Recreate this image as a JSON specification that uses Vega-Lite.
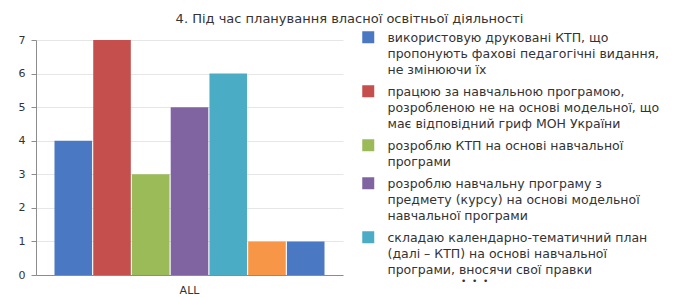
{
  "$schema": "https://vega.github.io/schema/vega-lite/v6.json",
  "width": 307,
  "height": 235,
  "autosize": {"type": "none"},
  "padding": {"left": 36, "top": 40, "right": 348, "bottom": 25},
  "background": "white",
  "config": {"view": {"stroke": null}, "font": "DejaVu Sans"},
  "title": {
    "text": "4. Під час планування власної освітньої діяльності",
    "font": "DejaVu Sans",
    "fontSize": 13,
    "fontWeight": "normal",
    "color": "#333333",
    "anchor": "middle",
    "dx": 160,
    "offset": 5
  },
  "data": {
    "values": [
      {"group": "ALL", "answer": "використовую друковані КТП, що|пропонують фахові педагогічні видання,|не змінюючи їх", "count": 4},
      {"group": "ALL", "answer": "працюю за навчальною програмою,|розробленою не на  основі модельної, що|має відповідний гриф МОН України", "count": 7},
      {"group": "ALL", "answer": "розроблю КТП на основі навчальної|програми", "count": 3},
      {"group": "ALL", "answer": "розроблю навчальну програму з|предмету (курсу) на основі модельної|навчальної програми", "count": 5},
      {"group": "ALL", "answer": "складаю календарно-тематичний план|(далі – КТП) на основі навчальної|програми, вносячи свої правки", "count": 6},
      {"group": "ALL", "answer": "інше", "count": 1},
      {"group": "ALL", "answer": "інше (2)", "count": 1}
    ]
  },
  "mark": {"type": "bar"},
  "encoding": {
    "x": {
      "field": "group",
      "type": "nominal",
      "scale": {"paddingInner": 0, "paddingOuter": 0.0685},
      "axis": {
        "title": null,
        "labelAngle": 0,
        "ticks": false,
        "labelFont": "DejaVu Sans",
        "labelFontSize": 11,
        "labelColor": "#333333",
        "labelPadding": 9,
        "domainColor": "#8c8c8c"
      }
    },
    "xOffset": {
      "field": "answer",
      "type": "nominal",
      "sort": null,
      "scale": {"paddingInner": 0.03, "paddingOuter": 0}
    },
    "y": {
      "field": "count",
      "type": "quantitative",
      "scale": {"domain": [0, 7]},
      "axis": {
        "title": null,
        "values": [0, 1, 2, 3, 4, 5, 6, 7],
        "grid": true,
        "gridColor": "#e6e6e6",
        "domainColor": "#8c8c8c",
        "tickColor": "#8c8c8c",
        "tickSize": 5,
        "labelPadding": 6,
        "labelFont": "DejaVu Sans",
        "labelFontSize": 11,
        "labelColor": "#333333"
      }
    },
    "color": {
      "field": "answer",
      "type": "nominal",
      "sort": null,
      "scale": {
        "range": ["#4a78c2", "#c54f4c", "#9bbb59", "#8064a2", "#4bacc6", "#f79646", "#4a78c2"]
      },
      "legend": {
        "orient": "none",
        "legendX": 326,
        "legendY": -9,
        "title": "\u2800\u2800\u2800\u2800\u2800\u2800\u2800\u2800\u2800\u2800\u2800\u2800\u2800\u2800\u2800•\u00a0\u00a0•\u00a0\u00a0•",
        "titleOrient": "bottom",
        "titleAnchor": "start",
        "titleFont": "DejaVu Sans",
        "titleFontSize": 9,
        "titleFontWeight": "normal",
        "titleColor": "#333333",
        "titlePadding": 0,
        "values": [
          "використовую друковані КТП, що|пропонують фахові педагогічні видання,|не змінюючи їх",
          "працюю за навчальною програмою,|розробленою не на  основі модельної, що|має відповідний гриф МОН України",
          "розроблю КТП на основі навчальної|програми",
          "розроблю навчальну програму з|предмету (курсу) на основі модельної|навчальної програми",
          "складаю календарно-тематичний план|(далі – КТП) на основі навчальної|програми, вносячи свої правки"
        ],
        "labelExpr": "split(datum.label, '|')",
        "symbolType": "square",
        "symbolSize": 144,
        "symbolStrokeWidth": 0,
        "symbolOpacity": 1,
        "labelFont": "DejaVu Sans",
        "labelFontSize": 12.5,
        "labelColor": "#333333",
        "labelOffset": 13,
        "labelLimit": 400,
        "labelBaseline": "top",
        "rowPadding": 8,
        "encode": {
          "labels": {
            "update": {
              "dy": {"value": -5},
              "lineHeight": {"value": 16}
            }
          }
        }
      }
    }
  }
}
